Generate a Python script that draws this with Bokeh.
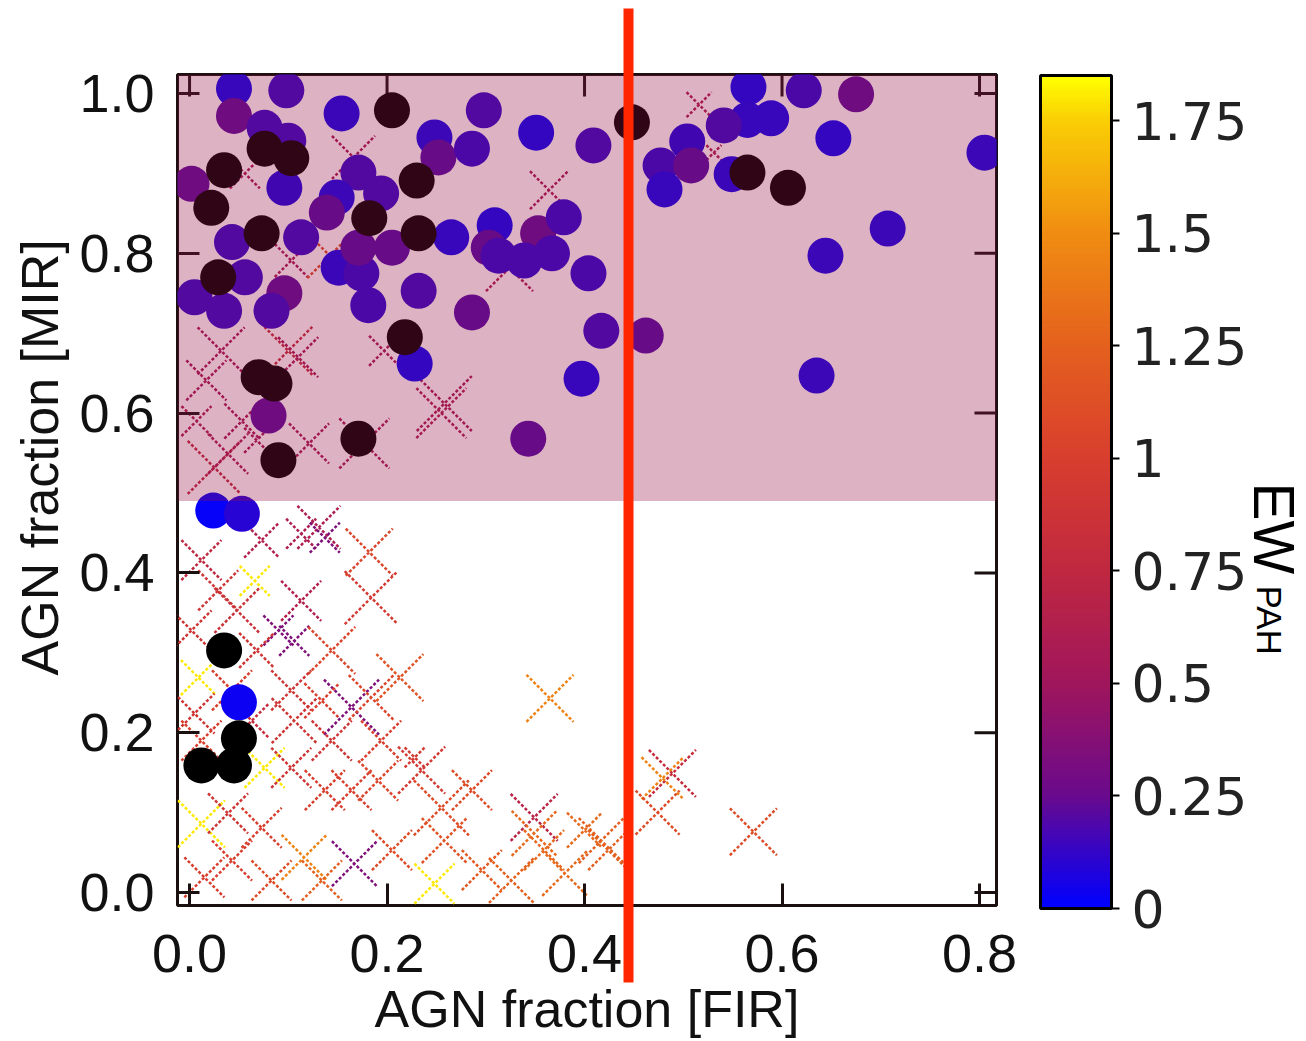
import numpy as np
from bokeh.plotting import figure
from bokeh.models import (ColumnDataSource, LinearColorMapper, ColorBar, FixedTicker,
                          BoxAnnotation, Title, CustomJSTickFormatter,
                          PrintfTickFormatter, Range1d)
from bokeh.embed import file_html
from bokeh.resources import INLINE

# ---------------------------------------------------------------- data
# AGN fraction in the far-IR (x) and mid-IR (y), colour = EW(PAH)

# sources with a measured EW(PAH), filled circles
circ_fir = [0.045, 0.098, 0.045, 0.076, 0.100, 0.154, 0.298, 0.351, 0.409, 0.002,
            0.096, 0.171, 0.248, 0.252, 0.286, 0.149, 0.139, 0.194, 0.043, 0.113,
            0.265, 0.309, 0.303, 0.313, 0.353, 0.379, 0.367, 0.339, 0.151, 0.174,
            0.171, 0.205, 0.056, 0.005, 0.035, 0.096, 0.083, 0.181, 0.232, 0.286,
            0.404, 0.417, 0.228, 0.397, 0.080, 0.343, 0.566, 0.622, 0.675, 0.652,
            0.589, 0.565, 0.541, 0.504, 0.477, 0.508, 0.481, 0.549, 0.805, 0.707,
            0.644, 0.462, 0.635, 0.024, 0.053, 0.050]
circ_mir = [1.006, 1.004, 0.972, 0.957, 0.941, 0.975, 0.979, 0.951, 0.935, 0.887,
            0.882, 0.901, 0.945, 0.920, 0.931, 0.870, 0.851, 0.875, 0.814, 0.820,
            0.820, 0.835, 0.807, 0.797, 0.825, 0.845, 0.800, 0.791, 0.782, 0.775,
            0.807, 0.807, 0.770, 0.745, 0.728, 0.750, 0.728, 0.735, 0.753, 0.726,
            0.775, 0.703, 0.662, 0.643, 0.597, 0.568, 1.008, 1.004, 0.999, 0.944,
            0.969, 0.967, 0.960, 0.940, 0.910, 0.910, 0.880, 0.899, 0.926, 0.831,
            0.797, 0.697, 0.647, 0.478, 0.474, 0.238]
circ_ew = [0.03, 0.12, 0.22, 0.12, 0.12, 0.04, 0.12, 0.02, 0.12, 0.22,
           0.06, 0.12, 0.05, 0.20, 0.10, 0.05, 0.20, 0.12, 0.12, 0.12,
           0.03, 0.02, 0.20, 0.10, 0.22, 0.10, 0.10, 0.10, 0.04, 0.10,
           0.20, 0.20, 0.12, 0.12, 0.12, 0.22, 0.12, 0.10, 0.12, 0.20,
           0.10, 0.12, 0.02, 0.03, 0.22, 0.20, 0.02, 0.10, 0.22, 0.02,
           0.03, 0.03, 0.12, 0.06, 0.10, 0.20, 0.03, 0.04, 0.05, 0.05,
           0.05, 0.20, 0.05, 0.02, 0.10, 0.03]

# sources without an EW(PAH) value, black circles
nopah_fir = [0.205, 0.448, 0.076, 0.103, 0.035, 0.022, 0.230, 0.182, 0.073, 0.232,
             0.029, 0.218, 0.070, 0.086, 0.171, 0.090, 0.565, 0.606, 0.035, 0.050,
             0.012, 0.045]
nopah_mir = [0.979, 0.964, 0.931, 0.919, 0.904, 0.857, 0.891, 0.844, 0.825, 0.825,
             0.770, 0.695, 0.645, 0.637, 0.568, 0.541, 0.901, 0.882, 0.303, 0.193,
             0.159, 0.159]

# comparison sample, crosses (cross_size = arm span in px)
cross_fir = [0.166, 0.364, 0.324, 0.056, 0.103, 0.142, 0.032, 0.100, 0.110, 0.258,
             0.255, 0.177, 0.025, 0.039, 0.121, 0.197, 0.516, 0.531, 0.017, 0.053,
             0.068, 0.007,
             0.131, 0.113, 0.182, 0.184, 0.137, 0.066, 0.029, 0.090, 0.106, 0.144,
             0.002, 0.009, 0.164, 0.184, 0.213, 0.365, 0.106, 0.005, 0.235, 0.228,
             0.076, 0.103, 0.137, 0.164, 0.191, 0.012, 0.039, 0.073, 0.116, 0.167,
             0.255, 0.258, 0.248, 0.349, 0.349, 0.359, 0.380, 0.417, 0.400, 0.015,
             0.489, 0.479, 0.474, 0.571, 0.424,
             0.012, 0.073, 0.048, 0.113, 0.068, 0.043, 0.103, 0.134, 0.012, 0.063,
             0.144, 0.194, 0.043, 0.083, 0.134, 0.205, 0.286, 0.296, 0.326]
cross_mir = [0.920, 0.879, 0.782, 0.900, 0.791, 0.797, 0.678, 0.678, 0.670, 0.612,
             0.600, 0.562, 0.532, 0.549, 0.562, 0.678, 0.986, 0.926, 0.641, 0.590,
             0.566, 0.590,
             0.457, 0.449, 0.426, 0.369, 0.444, 0.390, 0.378, 0.328, 0.315, 0.303,
             0.328, 0.269, 0.232, 0.244, 0.269, 0.243, 0.215, 0.224, 0.153, 0.169,
             0.156, 0.156, 0.128, 0.128, 0.140, 0.086, 0.099, 0.081, 0.044, 0.036,
             0.106, 0.065, 0.011, 0.094, 0.074, 0.053, 0.024, 0.065, 0.078, 0.019,
             0.149, 0.143, 0.100, 0.076, 0.053,
             0.416, 0.441, 0.353, 0.365, 0.303, 0.253, 0.253, 0.240, 0.190, 0.215,
             0.190, 0.190, 0.040, 0.015, 0.015, 0.053, 0.128, 0.028, 0.015]
cross_ew = [0.55, 0.55, 0.60, 0.55, 0.55, 1.10, 0.55, 0.80, 0.55, 0.55,
            0.60, 0.55, 0.75, 0.60, 0.55, 0.55, 0.60, 0.60, 0.55, 0.55,
            0.55, 0.60,
            0.60, 0.60, 1.05, 0.95, 0.35, 1.80, 0.90, 0.35, 0.35, 1.05,
            0.90, 1.80, 0.35, 1.05, 1.15, 1.45, 0.90, 0.90, 0.95, 0.95,
            1.80, 0.90, 1.00, 1.00, 1.05, 1.80, 0.90, 1.00, 1.45, 0.35,
            1.10, 1.15, 1.80, 0.70, 1.30, 1.30, 1.30, 1.25, 1.30, 1.00,
            0.80, 1.45, 1.10, 1.10, 1.25,
            0.75, 0.65, 0.85, 0.65, 0.90, 1.00, 0.90, 1.00, 1.00, 0.80,
            0.90, 1.00, 1.00, 1.10, 1.25, 1.10, 1.10, 1.20, 1.25]
cross_size = [43, 38, 47, 30, 33, 45, 47, 48, 40, 55,
              50, 50, 53, 40, 40, 30, 25, 15, 40, 35,
              25, 30,
              43, 30, 47, 53, 30, 30, 40, 30, 30, 47,
              40, 35, 55, 45, 47, 47, 45, 40, 47, 20,
              40, 40, 40, 40, 40, 47, 40, 40, 45, 45,
              55, 45, 40, 47, 45, 40, 45, 45, 35, 40,
              47, 42, 44, 47, 40,
              40, 35, 45, 40, 35, 40, 40, 35, 40, 35,
              40, 40, 40, 40, 40, 40, 40, 40, 45]

x_ticks = [0.0, 0.2, 0.4, 0.6, 0.8]
y_ticks = [0.0, 0.2, 0.4, 0.6, 0.8, 1.0]
ew_ticks = [0.0, 0.25, 0.5, 0.75, 1.0, 1.25, 1.5, 1.75]
ew_max = 1.85
agn_mir_cut = 0.49      # lower edge of the mid-IR AGN-dominated band
fir_marker = 0.445      # far-IR AGN fraction threshold

# ---------------------------------------------------------------- colour map
ew_stops = [0.0, 0.25, 0.5, 0.75, 1.0, 1.25, 1.5, 1.75, 1.85]
stop_rgb = [(0, 0, 255), (106, 10, 140), (160, 22, 92), (192, 40, 64), (216, 62, 46),
            (228, 96, 30), (240, 140, 18), (250, 205, 5), (255, 255, 0)]


def build_palette(n=256):
    vals = np.linspace(0.0, ew_max, n)
    chans = [np.interp(vals, ew_stops, [c[k] for c in stop_rgb]) for k in range(3)]
    return ["#%02x%02x%02x" % (int(round(r)), int(round(g)), int(round(b)))
            for r, g, b in zip(*chans)]


mapper = LinearColorMapper(palette=build_palette(), low=0.0, high=ew_max)

# ---------------------------------------------------------------- figure
X0, X1 = -0.0122, 0.8172
Y0, Y1 = -0.0163, 1.0238
FRAME_W, FRAME_H = 819, 831
INK = "#1a1010"
font = "Liberation Sans"

p = figure(frame_width=FRAME_W, frame_height=FRAME_H, output_backend="svg",
           toolbar_location=None,
           x_range=Range1d(X0, X1), y_range=Range1d(Y0, Y1),
           min_border_left=176, min_border_right=311, min_border_top=74,
           min_border_bottom=136)
p.background_fill_color = "white"
p.border_fill_color = "white"
p.outline_line_color = INK
p.outline_line_width = 3
p.grid.visible = False

for ax in (p.xaxis[0], p.yaxis[0]):
    ax.formatter = PrintfTickFormatter(format="%.1f")
    ax.axis_line_color = None
    ax.major_tick_in = 22
    ax.major_tick_out = 0
    ax.major_tick_line_width = 3
    ax.major_tick_line_color = INK
    ax.major_label_text_font = font
    ax.major_label_text_font_size = "54px"
    ax.major_label_text_color = "#111111"

# x axis: the far-IR threshold is carried as a long red minor tick that runs
# from above the frame down through the tick labels
RED_OUT = 77
xa = p.xaxis[0]
xa.ticker = FixedTicker(ticks=x_ticks, minor_ticks=[fir_marker])
xa.minor_tick_in = 74 + FRAME_H - 8
xa.minor_tick_out = RED_OUT
xa.minor_tick_line_color = "#ff2600"
xa.minor_tick_line_width = 10
xa.major_label_standoff = 29 - RED_OUT
xa.axis_label = "AGN fraction [FIR]"
xa.axis_label_text_font = font
xa.axis_label_text_font_size = "52px"
xa.axis_label_text_font_style = "normal"
xa.axis_label_text_color = "#111111"
xa.axis_label_standoff = 5
xa.level = "overlay"

ya = p.yaxis[0]
ya.ticker = FixedTicker(ticks=y_ticks)
ya.minor_tick_line_color = None
ya.major_label_standoff = 23

# y-axis title, placed along the left side
p.add_layout(Title(text="AGN fraction [MIR]", align="left", offset=230,
                   vertical_align="bottom", standoff=16,
                   text_font=font, text_font_size="52px", text_font_style="normal",
                   text_color="#111111"), "left")

# mirrored tick marks on the top and right edges of the frame
tick_dx = 22 / (FRAME_W / (X1 - X0))
tick_dy = 22 / (FRAME_H / (Y1 - Y0))
p.segment(x0=x_ticks, y0=[Y1] * len(x_ticks), x1=x_ticks, y1=[Y1 - tick_dy] * len(x_ticks),
          line_color=INK, line_width=3)
p.segment(x0=[X1] * len(y_ticks), y0=y_ticks, x1=[X1 - tick_dx] * len(y_ticks), y1=y_ticks,
          line_color=INK, line_width=3)

# crosses
cross_src = ColumnDataSource(dict(x=cross_fir, y=cross_mir, ew=cross_ew,
                                  s=[v * 1.414 for v in cross_size]))
p.scatter("x", "y", source=cross_src, marker="x", size="s",
          line_color={"field": "ew", "transform": mapper},
          line_width=2.5, line_dash="3 2")

# circles
circ_src = ColumnDataSource(dict(x=circ_fir, y=circ_mir, ew=circ_ew))
p.scatter("x", "y", source=circ_src, marker="circle", size=36,
          fill_color={"field": "ew", "transform": mapper}, line_color=None)
p.scatter(nopah_fir, nopah_mir, marker="circle", size=36,
          fill_color="black", line_color=None)

# AGN-dominated mid-IR band
p.add_layout(BoxAnnotation(bottom=agn_mir_cut, fill_color=(150, 20, 70), fill_alpha=0.32,
                           line_color=None))

# colour bar
cb = ColorBar(color_mapper=mapper, ticker=FixedTicker(ticks=ew_ticks),
              formatter=CustomJSTickFormatter(code="return String(tick)"),
              width=71, height=833, padding=0, margin=0, location=(44, -3),
              bar_line_color="black", bar_line_width=3,
              major_tick_in=0, major_tick_out=8, major_tick_line_color="black",
              major_tick_line_width=2, minor_tick_line_color=None,
              label_standoff=12, major_label_text_font="DejaVu Sans",
              major_label_text_font_size="52px", major_label_text_color="#222222",
              background_fill_color=None, border_line_color=None)
p.add_layout(cb, "right")

# colour-bar title EW with subscript PAH
p.add_layout(Title(text="EW", align="left", offset=408, vertical_align="bottom",
                   standoff=-17, text_font=font, text_font_size="57px",
                   text_font_style="normal", text_color="black"), "right")
p.add_layout(Title(text="PAH", align="left", offset=511, vertical_align="bottom",
                   standoff=-100, text_font=font, text_font_size="35px",
                   text_font_style="normal", text_color="black"), "right")

open("out.html", "w").write(file_html(p, INLINE))
